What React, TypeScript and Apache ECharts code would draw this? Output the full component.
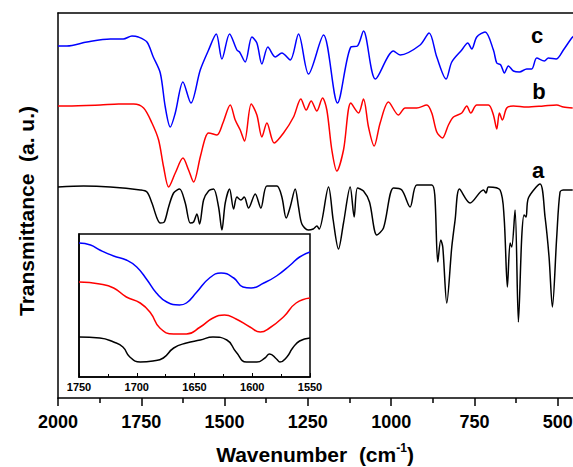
import React, { useEffect, useRef } from "react";
import * as echarts from "echarts";

// Main spectra (wavenumber cm-1, transmittance in arbitrary units)
const wnC = [2000,1973,1913,1843,1804,1778,1759,1733,1714,1693,1678,1663,1648,1625,1601,1573,1548,1525,1508,1485,1463,1455,1438,1418,1403,1388,1370,1348,1328,1303,1278,1248,1203,1161,1121,1101,1083,1047,993,973,913,886,863,835,818,788,770,758,743,718,693,683,671,660,648,633,615,593,578,563,540,528,505,483,458,451];
const tC = [352,352,356,359,359,362,361,356,341,325,291,271,285,316,295,328,348,364,339,364,348,346,336,361,355,334,351,341,345,338,364,324,363,295,351,352,367,319,347,343,353,365,341,319,336,348,355,349,361,366,348,335,333,325,332,327,326,329,329,340,337,340,339,348,360,362];

const wnB = [2000,1973,1873,1818,1773,1743,1718,1698,1683,1668,1648,1625,1608,1593,1573,1558,1548,1523,1505,1483,1468,1453,1440,1420,1403,1388,1373,1351,1323,1293,1271,1255,1240,1223,1206,1193,1178,1163,1143,1121,1098,1083,1068,1051,1033,1008,978,958,923,893,878,863,846,828,813,788,773,761,743,708,693,683,675,666,653,633,593,543,503,483,455];
const tB = [292,292,293,294,294,290,275,258,231,211,225,240,228,216,241,260,265,263,275,293,278,268,257,294,283,261,275,255,265,281,299,288,297,287,300,288,248,227,248,295,285,299,271,252,275,296,283,290,290,293,285,266,260,273,281,285,292,285,293,293,283,269,285,278,290,292,291,292,293,291,290];

const wnA = [2000,1923,1843,1753,1733,1718,1703,1693,1681,1668,1653,1635,1618,1603,1593,1583,1575,1563,1548,1533,1518,1508,1498,1485,1473,1463,1451,1441,1428,1408,1391,1373,1343,1328,1315,1303,1288,1278,1268,1249,1234,1223,1216,1188,1174,1158,1143,1123,1111,1101,1083,1065,1043,1023,993,968,943,923,878,869,860,851,845,833,818,808,795,763,723,715,708,673,661,651,643,638,628,618,608,601,595,588,553,538,526,516,503,493,483,455];
const tA = [211,212,211,208,206,195,180,175,176,191,205,209,195,175,176,184,174,198,207,209,191,168,195,209,189,201,198,201,190,204,190,212,212,201,180,191,209,191,174,168,169,172,169,211,178,149,175,211,181,210,207,196,163,170,210,208,191,213,213,203,136,158,151,95,151,178,209,195,208,205,211,208,181,111,155,151,188,76,161,183,181,200,214,181,141,91,161,206,208,208];

// Inset (1750-1550 cm-1)
const wnInC = [1750,1740,1732,1720,1709,1700,1691,1683,1674,1663,1657,1648,1637,1627,1616,1608,1601,1590,1579,1567,1559,1550];
const tInC = [134,132,127,121,117,110,97,84,75,72,74,85,99,104,99,90,89,94,101,112,120,125];
const wnInB = [1750,1732,1720,1709,1697,1688,1680,1668,1657,1645,1634,1624,1614,1602,1593,1585,1573,1562,1550];
const tInB = [95,93,89,80,74,64,49,43,43,50,59,62,58,50,45,49,60,74,79];
const wnInA = [1750,1732,1720,1712,1706,1697,1686,1677,1668,1657,1645,1634,1622,1614,1605,1596,1589,1585,1579,1576,1570,1565,1559,1550];
const tInA = [40,39,35,30,20,15,16,19,29,34,37,40,37,25,15,15,19,23,18,15,20,29,36,39];

const curveLabels = ["c", "b", "a"];
const FONT = "'Liberation Sans', Arial, sans-serif";

const zip = (x: number[], y: number[]) => x.map((v, i) => [v, y[i]]);

export default function App() {
  const ref = useRef<HTMLDivElement>(null);
  useEffect(() => {
    if (!ref.current) return;
    const chart = echarts.init(ref.current, null, { renderer: "svg" });
    const line = (name: string, data: number[][], color: string, idx: number, z: number, smooth: number) => ({
      name,
      type: "line",
      data,
      xAxisIndex: idx,
      yAxisIndex: idx,
      showSymbol: false,
      smooth,
      z,
      lineStyle: { color, width: 1.5 },
      clip: true,
    });
    chart.setOption({
      animation: false,
      backgroundColor: "#fff",
      grid: [
        { left: 58, width: 583, top: 13, bottom: 69, outerBoundsMode: "none", containLabel: false },
        { left: 79, width: 231, top: 234, height: 143, show: true, backgroundColor: "#fff", borderColor: "#000", borderWidth: 1.5, z: 10, outerBoundsMode: "none", containLabel: false },
      ],
      xAxis: [
        {
          type: "value", gridIndex: 0, inverse: true, min: 250, max: 2000, interval: 250,
          axisLine: { lineStyle: { color: "#000", width: 1.5 } },
          axisTick: { show: true, inside: false, length: 8, lineStyle: { color: "#000", width: 1.5 } },
          minorTick: { show: true, splitNumber: 2, length: 5, lineStyle: { color: "#000", width: 1.5 } },
          axisLabel: { color: "#000", fontSize: 18, fontWeight: "bold", fontFamily: FONT, margin: 15, formatter: (v: number) => (v < 500 ? "" : String(v)) },
          splitLine: { show: false },
        },
        {
          type: "value", gridIndex: 0, position: "top", inverse: true, min: 250, max: 2000,
          axisLine: { show: true, lineStyle: { color: "#000", width: 1.5 } },
          axisTick: { show: false }, axisLabel: { show: false }, splitLine: { show: false },
        },
        {
          type: "value", gridIndex: 1, inverse: true, min: 1550, max: 1750, interval: 50, z: 12,
          axisLine: { lineStyle: { color: "#000", width: 1.5 } },
          axisTick: { show: true, inside: true, length: 4, lineStyle: { color: "#000", width: 1 } },
          minorTick: { show: true, splitNumber: 2, length: 3, lineStyle: { color: "#000", width: 1 } },
          axisLabel: { color: "#000", fontSize: 11, fontWeight: "bold", fontFamily: FONT, margin: 4, formatter: (v: number) => String(v) },
          splitLine: { show: false },
        },
      ],
      yAxis: [
        {
          type: "value", gridIndex: 0, min: 0, max: 385,
          axisLine: { show: true, lineStyle: { color: "#000", width: 1.5 } },
          axisTick: { show: false }, axisLabel: { show: false }, splitLine: { show: false },
        },
        {
          type: "value", gridIndex: 1, min: 0, max: 143, z: 12,
          axisLine: { show: true, lineStyle: { color: "#000", width: 1.5 } },
          axisTick: { show: false }, axisLabel: { show: false }, splitLine: { show: false },
        },
      ],
      series: [
        line("c", zip(wnC, tC), "#0000ff", 0, 2, 0.3),
        line("b", zip(wnB, tB), "#ff0000", 0, 2, 0.3),
        line("a", zip(wnA, tA), "#000000", 0, 2, 0.3),
        { ...line("inset c", zip(wnInC, tInC), "#0000ff", 1, 13, 0.5), xAxisIndex: 2 },
        { ...line("inset b", zip(wnInB, tInB), "#ff0000", 1, 13, 0.5), xAxisIndex: 2 },
        { ...line("inset a", zip(wnInA, tInA), "#000000", 1, 13, 0.5), xAxisIndex: 2 },
      ],
      graphic: [
        {
          type: "text", x: 315, y: 454, z: 20,
          style: {
            text: "{a|Wavenumber  (cm}{s|-1}{a|)}",
            align: "center", verticalAlign: "middle",
            rich: {
              a: { fontSize: 21, fontWeight: "bold", fontFamily: FONT, fill: "#000" },
              s: { fontSize: 12, fontWeight: "bold", fontFamily: FONT, fill: "#000", padding: [0, 0, 12, 0] },
            },
          },
        },
        {
          type: "text", x: 26, y: 211, rotation: Math.PI / 2, z: 20,
          style: {
            text: "Transmittance  (a. u.)", align: "center", verticalAlign: "middle",
            fontSize: 21, fontWeight: "bold", fontFamily: FONT, fill: "#000",
          },
        },
        { type: "text", x: 537, y: 35, z: 20, style: { text: curveLabels[0], align: "center", verticalAlign: "middle", fontSize: 22, fontWeight: "bold", fontFamily: FONT, fill: "#000" } },
        { type: "text", x: 539, y: 91, z: 20, style: { text: curveLabels[1], align: "center", verticalAlign: "middle", fontSize: 22, fontWeight: "bold", fontFamily: FONT, fill: "#000" } },
        { type: "text", x: 538, y: 170, z: 20, style: { text: curveLabels[2], align: "center", verticalAlign: "middle", fontSize: 22, fontWeight: "bold", fontFamily: FONT, fill: "#000" } },
      ],
    });
    return () => chart.dispose();
  }, []);
  return <div ref={ref} style={{ position: "fixed", left: 0, top: 0, width: 573, height: 467, background: "#fff" }} />;
}
